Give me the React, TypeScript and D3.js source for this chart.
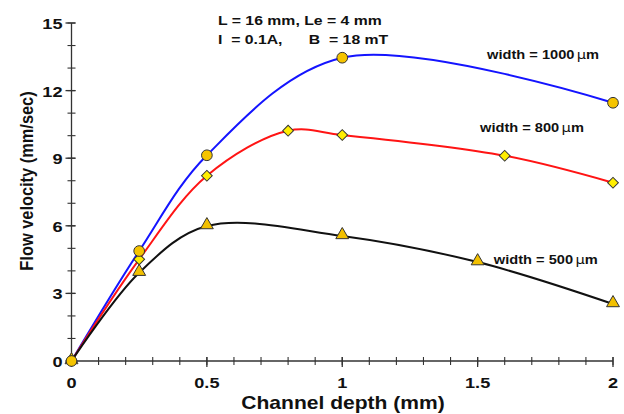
import React, { useEffect, useRef } from 'react';
import * as d3 from 'd3';

// channel depth (mm) vs flow velocity (mm/sec)
const depth1000 = [0, 0.25, 0.5, 1, 2];
const vel1000 = [0, 4.88, 9.13, 13.46, 11.46];
const depth800 = [0, 0.25, 0.5, 0.8, 1, 1.6, 2];
const vel800 = [0, 4.51, 8.22, 10.22, 10.03, 9.11, 7.91];
const depth500 = [0, 0.25, 0.5, 1, 1.5, 2];
const vel500 = [0, 3.92, 5.99, 5.55, 4.39, 2.53];

const xTicks = [0, 0.5, 1, 1.5, 2];
const yTicks = [0, 3, 6, 9, 12, 15];
const seriesLabels = ['width = 1000', 'width = 800', 'width = 500'];
const infoLines = ['L = 16 mm, Le = 4 mm', 'I  = 0.1A,      B  = 18 mT'];

const App = () => {
  const svgRef = useRef<SVGSVGElement | null>(null);

  useEffect(() => {
    const width = 624;
    const height = 414;
    const margin = { left: 71.5, right: 11, top: 23, bottom: 53 };
    const font = 'Liberation Sans, Arial, sans-serif';
    const sx = 1.17; // the original picture is a bit stretched sideways

    const svg = d3.select(svgRef.current)
      .attr('width', width)
      .attr('height', height);
    svg.selectAll('*').remove();

    const x = d3.scaleLinear().domain([0, 2]).range([margin.left, width - margin.right]);
    const y = d3.scaleLinear().domain([0, 15]).range([height - margin.bottom, margin.top]);

    const addText = (px: number, py: number, t: string, size: number, anchor = 'start', rot = 0) =>
      svg.append('text')
        .attr('transform', `translate(${px},${py}) scale(${sx},1)` + (rot ? ` rotate(${rot})` : ''))
        .attr('text-anchor', anchor)
        .attr('font-family', font)
        .attr('font-weight', 'bold')
        .attr('font-size', size)
        .style('white-space', 'pre')
        .attr('fill', '#111')
        .text(t);

    const axisColor = '#333';
    // x axis
    const xa = svg.append('g');
    xa.append('line')
      .attr('x1', x(0)).attr('x2', x(2))
      .attr('y1', y(0)).attr('y2', y(0))
      .attr('stroke', axisColor).attr('stroke-width', 1.3);
    xa.selectAll('line.minor')
      .data(d3.range(0, 2.0001, 0.1))
      .join('line')
      .attr('class', 'minor')
      .attr('x1', d => x(d)).attr('x2', d => x(d))
      .attr('y1', y(0) - 4).attr('y2', y(0) + 4)
      .attr('stroke', axisColor).attr('stroke-width', 1.1);
    xa.selectAll('line.major')
      .data(xTicks)
      .join('line')
      .attr('class', 'major')
      .attr('x1', d => x(d)).attr('x2', d => x(d))
      .attr('y1', y(0) - 4).attr('y2', y(0) + 6)
      .attr('stroke', axisColor).attr('stroke-width', 1.3);
    xTicks.forEach(d => addText(x(d), y(0) + 27, String(d), 15.5, 'middle'));

    // y axis
    const ya = svg.append('g');
    ya.append('line')
      .attr('x1', x(0)).attr('x2', x(0))
      .attr('y1', y(0)).attr('y2', y(15))
      .attr('stroke', axisColor).attr('stroke-width', 1.3);
    ya.selectAll('line.minor')
      .data(d3.range(0, 15.001, 1))
      .join('line')
      .attr('class', 'minor')
      .attr('x1', x(0) - 4).attr('x2', x(0) + 4)
      .attr('y1', d => y(d)).attr('y2', d => y(d))
      .attr('stroke', axisColor).attr('stroke-width', 1.1);
    ya.selectAll('line.major')
      .data(yTicks)
      .join('line')
      .attr('class', 'major')
      .attr('x1', x(0) - 6).attr('x2', x(0) + 4)
      .attr('y1', d => y(d)).attr('y2', d => y(d))
      .attr('stroke', axisColor).attr('stroke-width', 1.3);
    yTicks.forEach(d => addText(x(0) - 9, y(d) + 6, String(d), 15.5, 'end'));

    // axis titles
    addText(343, 409, 'Channel depth (mm)', 18, 'middle');
    addText(33, 181, 'Flow velocity (mm/sec)', 16.4, 'middle', -90);

    const line = d3.line<[number, number]>()
      .x(d => x(d[0]))
      .y(d => y(d[1]))
      .curve(d3.curveCatmullRom.alpha(0.5));

    const series = [
      { xs: depth1000, ys: vel1000, color: '#1414ff', marker: 'circle', fill: '#f5c400' },
      { xs: depth800, ys: vel800, color: '#ff1414', marker: 'diamond', fill: '#ffee00' },
      { xs: depth500, ys: vel500, color: '#111', marker: 'triangle', fill: '#f2c000' },
    ];

    const symbolType: Record<string, d3.SymbolType> = {
      circle: d3.symbolCircle,
      diamond: d3.symbolSquare,
      triangle: d3.symbolTriangle,
    };
    const symbolSize: Record<string, number> = { circle: 90, diamond: 58, triangle: 72 };

    series.forEach(s => {
      const pts = s.xs.map((d, i) => [d, s.ys[i]] as [number, number]);
      svg.append('path')
        .attr('d', line(pts))
        .attr('fill', 'none')
        .attr('stroke', s.color)
        .attr('stroke-width', 2);
    });

    // markers drawn from bottom series up
    [...series].reverse().forEach(s => {
      const pts = s.xs.map((d, i) => [d, s.ys[i]] as [number, number]);
      svg.append('g')
        .selectAll('path')
        .data(pts)
        .join('path')
        .attr('d', d3.symbol(symbolType[s.marker], symbolSize[s.marker])())
        .attr('transform', d =>
          `translate(${x(d[0])},${y(d[1]) + (s.marker === 'triangle' ? -1 : 0)})` +
          (s.marker === 'diamond' ? ' rotate(45)' : ''))
        .attr('fill', s.fill)
        .attr('stroke', '#333')
        .attr('stroke-width', 1);
    });

    // annotations
    infoLines.forEach((t, i) => addText(218, 25 + i * 18.5, t, 13.5));

    const labelPos = [
      { xv: 1.535, yv: 13.4 },
      { xv: 1.509, yv: 10.16 },
      { xv: 1.56, yv: 4.3 },
    ];
    seriesLabels.forEach((t, i) => {
      const tx = addText(x(labelPos[i].xv), y(labelPos[i].yv), t, 12.5);
      tx.append('tspan').attr('dx', 2).attr('font-weight', 'normal')
        .attr('font-family', 'DejaVu Sans, sans-serif').text('\u00b5');
      tx.append('tspan').text('m');
    });
  }, []);

  return (
    <svg
      ref={svgRef}
      style={{ position: 'absolute', left: 0, top: 0, background: '#fff' }}
    />
  );
};

export default App;
